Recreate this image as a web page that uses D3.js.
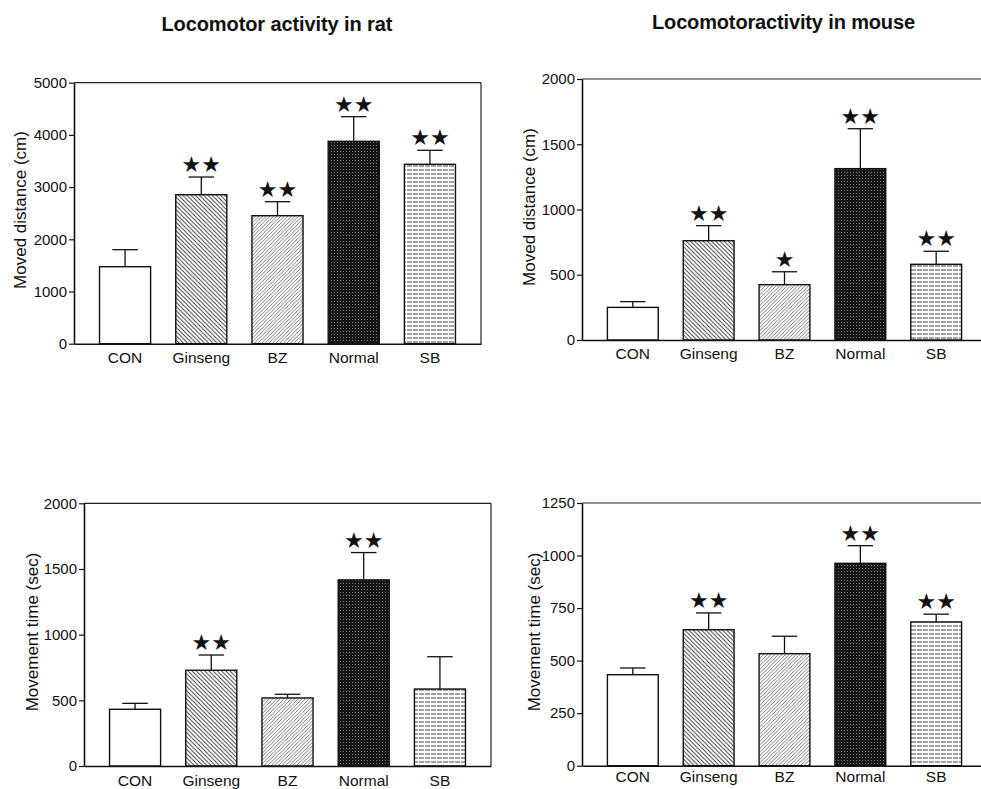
<!DOCTYPE html>
<html>
<head>
<meta charset="utf-8">
<script src="https://cdn.jsdelivr.net/npm/d3@7"></script>
<style>
  body { margin: 0; background: #fff; }
  svg { display: block; }
  text { font-family: "Liberation Sans", Arial, sans-serif; fill: #111; }
</style>
</head>
<body>
<script>
var categories = ["CON", "Ginseng", "BZ", "Normal", "SB"];
var patterns = ["none", "back", "fwd", "dark", "horiz"];

// values (mean and upper error)
var ratDistance = [1475, 2854, 2452, 3877, 3437];
var ratDistanceErr = [326, 339, 268, 472, 268];
var ratDistanceStars = ["", "★★", "★★", "★★", "★★"];

var mouseDistance = [250, 761, 424, 1313, 580];
var mouseDistanceErr = [44, 115, 99, 306, 100];
var mouseDistanceStars = ["", "★★", "★", "★★", "★★"];

var ratTime = [432, 729, 518, 1417, 586];
var ratTimeErr = [45, 116, 28, 208, 246];
var ratTimeStars = ["", "★★", "", "★★", ""];

var mouseTime = [433, 647, 533, 963, 684];
var mouseTimeErr = [32, 80, 83, 84, 37];
var mouseTimeStars = ["", "★★", "", "★★", "★★"];

var ticksDistRat = [0, 1000, 2000, 3000, 4000, 5000];
var ticksDistMouse = [0, 500, 1000, 1500, 2000];
var ticksTimeRat = [0, 500, 1000, 1500, 2000];
var ticksTimeMouse = [0, 250, 500, 750, 1000, 1250];

var width = 981, height = 789;

var svg = d3.select("body").append("svg")
    .attr("width", width)
    .attr("height", height);

// fill patterns
var defs = svg.append("defs");

var p = defs.append("pattern").attr("id", "back")
    .attr("patternUnits", "userSpaceOnUse")
    .attr("width", 4.2).attr("height", 4.2);
p.append("rect").attr("width", 4.2).attr("height", 4.2).attr("fill", "#fff");
p.append("path").attr("d", "M-1,-1 L5.2,5.2 M-1,3.2 L1,5.2 M3.2,-1 L5.2,1")
    .attr("stroke", "#333").attr("stroke-width", 0.9);

p = defs.append("pattern").attr("id", "fwd")
    .attr("patternUnits", "userSpaceOnUse")
    .attr("width", 3.6).attr("height", 3.6);
p.append("rect").attr("width", 3.6).attr("height", 3.6).attr("fill", "#fff");
p.append("path").attr("d", "M-1,4.6 L4.6,-1 M-1,1 L1,-1 M2.6,4.6 L4.6,2.6")
    .attr("stroke", "#555").attr("stroke-width", 0.8);

p = defs.append("pattern").attr("id", "dark")
    .attr("patternUnits", "userSpaceOnUse")
    .attr("width", 3).attr("height", 3);
p.append("rect").attr("width", 3).attr("height", 3).attr("fill", "#161616");
p.append("rect").attr("x", 1).attr("y", 1).attr("width", 1).attr("height", 1).attr("fill", "#777");

p = defs.append("pattern").attr("id", "horiz")
    .attr("patternUnits", "userSpaceOnUse")
    .attr("width", 6).attr("height", 4);
p.append("rect").attr("width", 6).attr("height", 4).attr("fill", "#fff");
p.append("line").attr("x1", 0).attr("x2", 6).attr("y1", 2).attr("y2", 2)
    .attr("stroke", "#444").attr("stroke-width", 1)
    .attr("stroke-dasharray", "4,1");

function drawPanel(opt) {
    var x = d3.scaleBand()
        .domain(categories)
        .range([opt.left, opt.right])
        .paddingInner(0.33)
        .paddingOuter(0.335);

    var y = d3.scaleLinear()
        .domain([0, opt.max])
        .range([opt.bottom, opt.top]);

    var g = svg.append("g");

    // frame top and right
    g.append("line")
        .attr("x1", opt.left).attr("x2", opt.right)
        .attr("y1", y(opt.max)).attr("y2", y(opt.max))
        .attr("stroke", "#222").attr("stroke-width", 1.2);
    g.append("line")
        .attr("x1", opt.right).attr("x2", opt.right)
        .attr("y1", y(opt.max)).attr("y2", y(0))
        .attr("stroke", "#222").attr("stroke-width", 1.2);

    var bars = g.selectAll(".bar")
        .data(opt.values)
        .enter().append("g")
        .attr("class", "bar");

    // error bars (upper only)
    bars.append("line")
        .attr("x1", function(d, i) { return x(categories[i]) + x.bandwidth() / 2; })
        .attr("x2", function(d, i) { return x(categories[i]) + x.bandwidth() / 2; })
        .attr("y1", function(d) { return y(d); })
        .attr("y2", function(d, i) { return y(d + opt.errs[i]); })
        .attr("stroke", "#111").attr("stroke-width", 1.3);
    bars.append("line")
        .attr("x1", function(d, i) { return x(categories[i]) + x.bandwidth() * 0.25; })
        .attr("x2", function(d, i) { return x(categories[i]) + x.bandwidth() * 0.75; })
        .attr("y1", function(d, i) { return y(d + opt.errs[i]); })
        .attr("y2", function(d, i) { return y(d + opt.errs[i]); })
        .attr("stroke", "#111").attr("stroke-width", 1.3);

    bars.append("rect")
        .attr("x", function(d, i) { return x(categories[i]); })
        .attr("width", x.bandwidth())
        .attr("y", function(d) { return y(d); })
        .attr("height", function(d) { return y(0) - y(d); })
        .attr("fill", function(d, i) { return patterns[i] == "none" ? "#fff" : "url(#" + patterns[i] + ")"; })
        .attr("stroke", "#111")
        .attr("stroke-width", 1.4);

    bars.append("text")
        .attr("x", function(d, i) { return x(categories[i]) + x.bandwidth() / 2; })
        .attr("y", function(d, i) { return y(d + opt.errs[i]) - 5; })
        .attr("text-anchor", "middle")
        .style("font-family", "'DejaVu Sans', sans-serif")
        .style("font-size", "22px")
        .text(function(d, i) { return opt.stars[i]; });

    // axes
    var ya = g.append("g")
        .attr("transform", "translate(" + opt.left + ",0)")
        .call(d3.axisLeft(y).tickValues(opt.ticks).tickFormat(d3.format("d"))
            .tickSize(5).tickSizeOuter(0).tickPadding(2));
    ya.select(".domain").attr("stroke", "#111").attr("stroke-width", 1.6);
    ya.selectAll(".tick line").attr("stroke", "#111").attr("stroke-width", 1.2);
    ya.selectAll(".tick text")
        .style("font-family", "'Liberation Sans', Arial, sans-serif")
        .style("font-size", "15px")
        .attr("fill", "#111");

    var xa = g.append("g")
        .attr("transform", "translate(0," + opt.bottom + ")")
        .call(d3.axisBottom(x).tickSize(0).tickPadding(opt.labelPad));
    xa.select(".domain").attr("stroke", "#111").attr("stroke-width", 1.6);
    xa.selectAll(".tick text")
        .style("font-family", "'Liberation Sans', Arial, sans-serif")
        .style("font-size", "15.5px")
        .attr("fill", "#111");

    g.append("text")
        .attr("transform", "translate(" + opt.labelX + "," + opt.labelY + ") rotate(-90)")
        .attr("text-anchor", "middle")
        .attr("dy", "0.35em")
        .style("font-size", "17px")
        .text(opt.yLabel);
}

drawPanel({ left: 74, right: 481, top: 82.7, bottom: 343.7, max: 5000, ticks: ticksDistRat,
    values: ratDistance, errs: ratDistanceErr, stars: ratDistanceStars,
    yLabel: "Moved distance (cm)", labelX: 20, labelY: 210, labelPad: 8 });

drawPanel({ left: 582, right: 987, top: 79, bottom: 340, max: 2000, ticks: ticksDistMouse,
    values: mouseDistance, errs: mouseDistanceErr, stars: mouseDistanceStars,
    yLabel: "Moved distance (cm)", labelX: 529, labelY: 207, labelPad: 8 });

drawPanel({ left: 84, right: 491, top: 503.3, bottom: 766, max: 2000, ticks: ticksTimeRat,
    values: ratTime, errs: ratTimeErr, stars: ratTimeStars,
    yLabel: "Movement time (sec)", labelX: 32, labelY: 632, labelPad: 9 });

drawPanel({ left: 582, right: 987, top: 503, bottom: 765.7, max: 1250, ticks: ticksTimeMouse,
    values: mouseTime, errs: mouseTimeErr, stars: mouseTimeStars,
    yLabel: "Movement time (sec)", labelX: 534, labelY: 632, labelPad: 5 });

// titles
svg.append("text")
    .attr("x", 277).attr("y", 30.5)
    .attr("text-anchor", "middle")
    .attr("textLength", 231)
    .style("font-size", "20px").style("font-weight", "bold")
    .text("Locomotor activity in rat");

svg.append("text")
    .attr("x", 783.5).attr("y", 28.5)
    .attr("text-anchor", "middle")
    .attr("textLength", 263)
    .style("font-size", "20px").style("font-weight", "bold")
    .text("Locomotoractivity in mouse");
</script>
</body>
</html>
